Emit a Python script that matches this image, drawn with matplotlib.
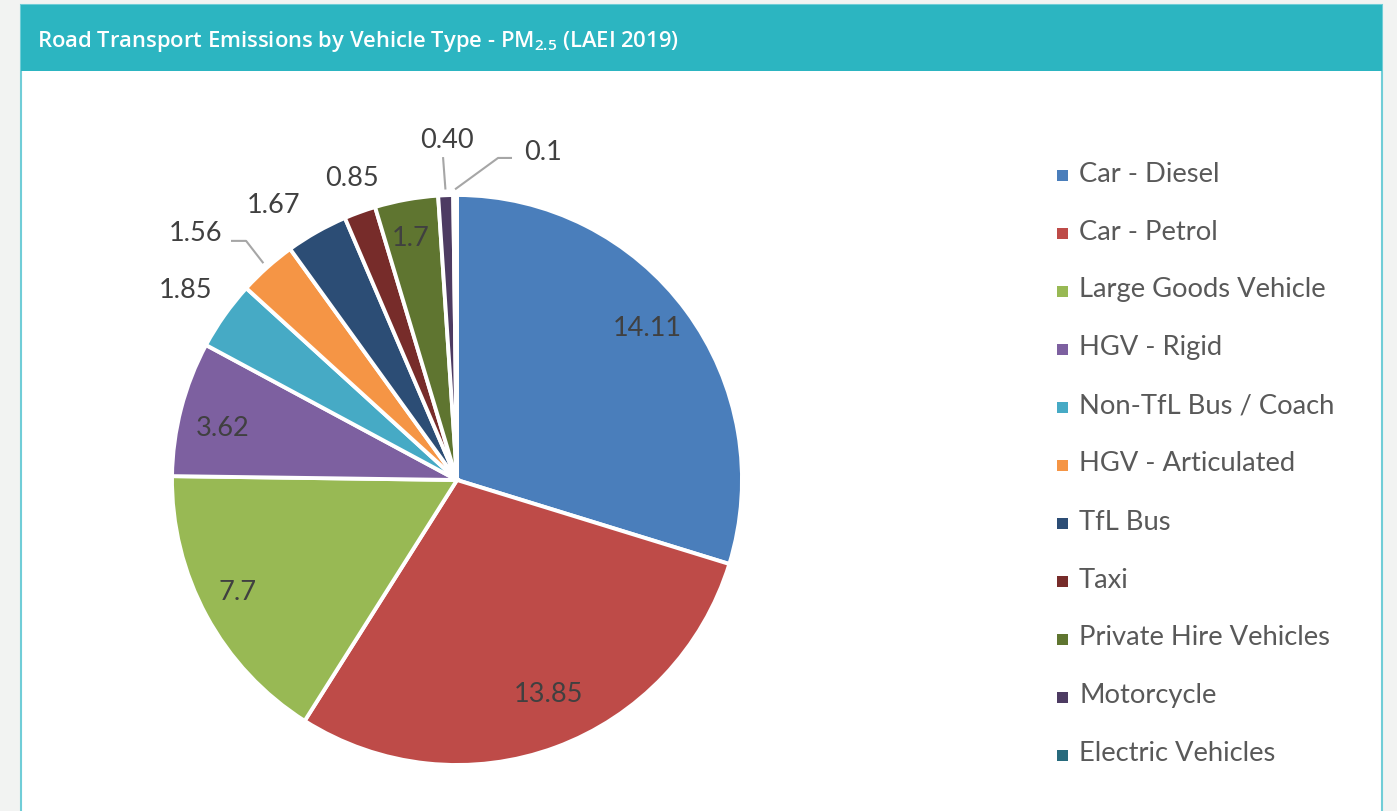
import numpy as np
import matplotlib
matplotlib.use("Agg")
import matplotlib.pyplot as plt
from matplotlib.patches import Rectangle

plt.rcParams["font.family"] = ["Lato", "DejaVu Sans"]

# data
categories = ["Car - Diesel", "Car - Petrol", "Large Goods Vehicle", "HGV - Rigid",
              "Non-TfL Bus / Coach", "HGV - Articulated", "TfL Bus", "Taxi",
              "Private Hire Vehicles", "Motorcycle", "Electric Vehicles"]
values = [14.11, 13.85, 7.7, 3.62, 1.85, 1.56, 1.67, 0.85, 1.7, 0.40, 0.1]
value_labels = ["14.11", "13.85", "7.7", "3.62", "1.85", "1.56", "1.67", "0.85",
                "1.7", "0.40", "0.1"]
colors = ["#4a7ebb", "#be4b48", "#98b954", "#7d60a0", "#46aac5", "#f59545",
          "#2c4d75", "#772c2a", "#5f7530", "#4d3b62", "#276a7c"]

# label placement (radius, angle offset from wedge middle)
label_r = [0.856, 0.815, 0.863, 0.842, 1.164, 1.261, 1.162, 1.125, 0.867, 1.197, 1.193]
label_dang = [2.4, 2.8, -1.4, 2.0, 0.3, 4.8, 4.1, -0.8, 0.5, -0.6, -15.1]
# leader lines: index -> points after the start on the wedge edge
leaders = {5: [(-0.740, 0.839), (-0.793, 0.839)],
           9: [(-0.049, 1.133)],
           10: [(0.144, 1.130), (0.193, 1.130)]}

W, H = 1397, 812
fig = plt.figure(figsize=(W / 100, H / 100), dpi=100)
fig.patch.set_facecolor("#f2f3f2")

# card + header (behind the axes)
fig.add_artist(Rectangle((21 / W, -0.01), 1361 / W, 1.01 - 6 / H, transform=fig.transFigure,
                         facecolor="white", edgecolor="#70cdd7", linewidth=1.5, zorder=-2))
fig.add_artist(Rectangle((21 / W, 1 - 72 / H), 1361 / W, 66 / H, transform=fig.transFigure,
                         facecolor="#2cb5c1", edgecolor="none", zorder=-1))
fig.text(37 / W, 1 - 41 / H, r"Road Transport Emissions by Vehicle Type - PM$_\mathregular{2.5}$ (LAEI 2019)",
         color="white", fontsize=15.8, fontweight="semibold", family=["Open Sans", "DejaVu Sans"],
         va="center", ha="left")

# pie axes: radius 1 = 285 px, centre at (457, 481)
R = 285
cx, cy = 457, H - 481
side = 3 * R
ax = fig.add_axes([(cx - side / 2) / W, (cy - side / 2) / H, side / W, side / H])
ax.patch.set_visible(False)
wedges, _ = ax.pie(values, colors=colors, startangle=90, counterclock=False, radius=1,
                   wedgeprops=dict(edgecolor="white", linewidth=2.8))
ax.set_xlim(-1.5, 1.5)
ax.set_ylim(-1.5, 1.5)
ax.set_aspect("equal")
ax.axis("off")

for i, w in enumerate(wedges):
    mid = (w.theta1 + w.theta2) / 2
    a = np.deg2rad(mid + label_dang[i])
    ax.text(label_r[i] * np.cos(a), label_r[i] * np.sin(a), value_labels[i],
            ha="center", va="center", fontsize=19.5, color="#404040")
    if i in leaders:
        m = np.deg2rad(mid)
        pts = [(1.02 * np.cos(m), 1.02 * np.sin(m))] + leaders[i]
        xs, ys = zip(*pts)
        ax.plot(xs, ys, color="#a6a6a6", lw=1.5, solid_capstyle="butt", clip_on=False)

# legend
for i, (name, c) in enumerate(zip(categories, colors)):
    y = 174 + 58 * i
    fig.add_artist(Rectangle((1057 / W, 1 - (y + 8) / H), 11 / W, 11 / H,
                             transform=fig.transFigure, facecolor=c, edgecolor="none"))
    fig.text(1079 / W, 1 - y / H, name, fontsize=19.7, color="#595959", va="center", ha="left")

fig.savefig("out.png", dpi=100, facecolor=fig.get_facecolor())
